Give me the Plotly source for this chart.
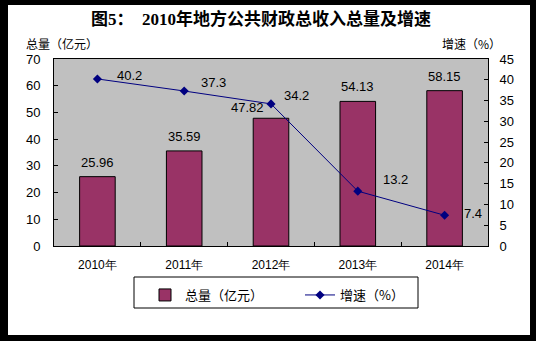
import plotly.graph_objects as go

years = ["2010年", "2011年", "2012年", "2013年", "2014年"]
totals = [25.96, 35.59, 47.82, 54.13, 58.15]
growth = [40.2, 37.3, 34.2, 13.2, 7.4]
total_labels = ["25.96", "35.59", "47.82", "54.13", "58.15"]
growth_labels = ["40.2", "37.3", "34.2", "13.2", "7.4"]

W, H = 536, 341
L, R, T, B = 54, 48, 59, 95
pw, ph = W - L - R, H - T - B

def px(x):
    return (x - L) / pw

def py(y):
    return (H - B - y) / ph

font = "Liberation Sans, Arial, sans-serif"
cjk = "Noto Sans CJK SC, sans-serif"

fig = go.Figure()
fig.add_trace(go.Bar(
    x=years, y=totals, name="总量（亿元）",
    marker=dict(color="#993366", line=dict(color="black", width=1)),
    width=0.41,
))
fig.add_trace(go.Scatter(
    x=years, y=growth, name="增速（%）", yaxis="y2",
    mode="lines+markers",
    line=dict(color="#000080", width=1),
    marker=dict(symbol="diamond", size=7, color="#000080"),
))

shapes = [
    dict(type="rect", xref="paper", yref="paper", x0=px(0), x1=px(8), y0=py(0), y1=py(H), fillcolor="black", line_width=0),
    dict(type="rect", xref="paper", yref="paper", x0=px(530), x1=px(W), y0=py(0), y1=py(H), fillcolor="black", line_width=0),
    dict(type="rect", xref="paper", yref="paper", x0=px(0), x1=px(W), y0=py(0), y1=py(5), fillcolor="black", line_width=0),
    dict(type="rect", xref="paper", yref="paper", x0=px(0), x1=px(W), y0=py(335), y1=py(H), fillcolor="black", line_width=0),
    dict(type="rect", xref="paper", yref="paper", x0=px(134), x1=px(418), y0=py(277), y1=py(308),
         fillcolor="rgba(0,0,0,0)", line=dict(color="black", width=1)),
]

annotations = [
    dict(text="<b>图5：  2010年地方公共财政总收入总量及增速</b>", xref="paper", yref="paper",
         x=px(261), y=py(19), showarrow=False,
         font=dict(family="Liberation Serif, Noto Sans CJK SC, serif", size=17, color="black"),
         xanchor="center", yanchor="middle"),
    dict(text="总量（亿元）", xref="paper", yref="paper", x=px(24), y=py(44), showarrow=False,
         font=dict(family=cjk, size=12, color="black"), xanchor="left", yanchor="middle"),
    dict(text="增速（%）", xref="paper", yref="paper", x=px(503), y=py(44), showarrow=False,
         font=dict(family=cjk, size=12, color="black"), xanchor="right", yanchor="middle"),
]

b_shift = [(0, 5), (0, 5), (-24, 1), (0, 5), (0, 5)]
for yr, v, t, (dx, dy) in zip(years, totals, total_labels, b_shift):
    annotations.append(dict(text=t, x=yr, y=v, xref="x", yref="y", showarrow=False,
                            yanchor="bottom", yshift=dy, xshift=dx,
                            font=dict(family=font, size=13, color="black")))

g_shift = [(32, 3), (29, 9), (25, 8), (38, 12), (28, 2)]
for yr, v, t, (dx, dy) in zip(years, growth, growth_labels, g_shift):
    annotations.append(dict(text=t, x=yr, y=v, xref="x", yref="y2", showarrow=False,
                            xshift=dx, yshift=dy,
                            font=dict(family=font, size=13, color="black")))

fig.update_layout(
    width=W, height=H,
    margin=dict(l=L, r=R, t=T, b=B),
    paper_bgcolor="white", plot_bgcolor="#C0C0C0",
    showlegend=True,
    legend=dict(orientation="h", x=px(145), xanchor="left", y=py(280), yanchor="top",
                borderwidth=0, bgcolor="rgba(0,0,0,0)",
                font=dict(family=cjk, size=13, color="black"), entrywidth=110,
                itemwidth=30),
    xaxis=dict(type="category", showline=True, linecolor="black", mirror=True,
               ticks="inside", tickson="boundaries", ticklen=4, tickcolor="black",
               ticklabelstandoff=8,
               tickfont=dict(family=font, size=12, color="black"), showgrid=False),
    yaxis=dict(range=[0, 70], dtick=10, showline=True, linecolor="black", ticks="inside",
               ticklen=4, tickcolor="black", showgrid=False, zeroline=False,
               ticklabelstandoff=10,
               tickfont=dict(family=font, size=13, color="black")),
    yaxis2=dict(range=[0, 45], dtick=5, overlaying="y", side="right", showline=True,
                linecolor="black", ticks="inside", ticklen=4, tickcolor="black",
                showgrid=False, zeroline=False, ticklabelstandoff=8,
                tickfont=dict(family=font, size=13, color="black")),
    shapes=shapes, annotations=annotations,
)

fig.write_html("out.html")
